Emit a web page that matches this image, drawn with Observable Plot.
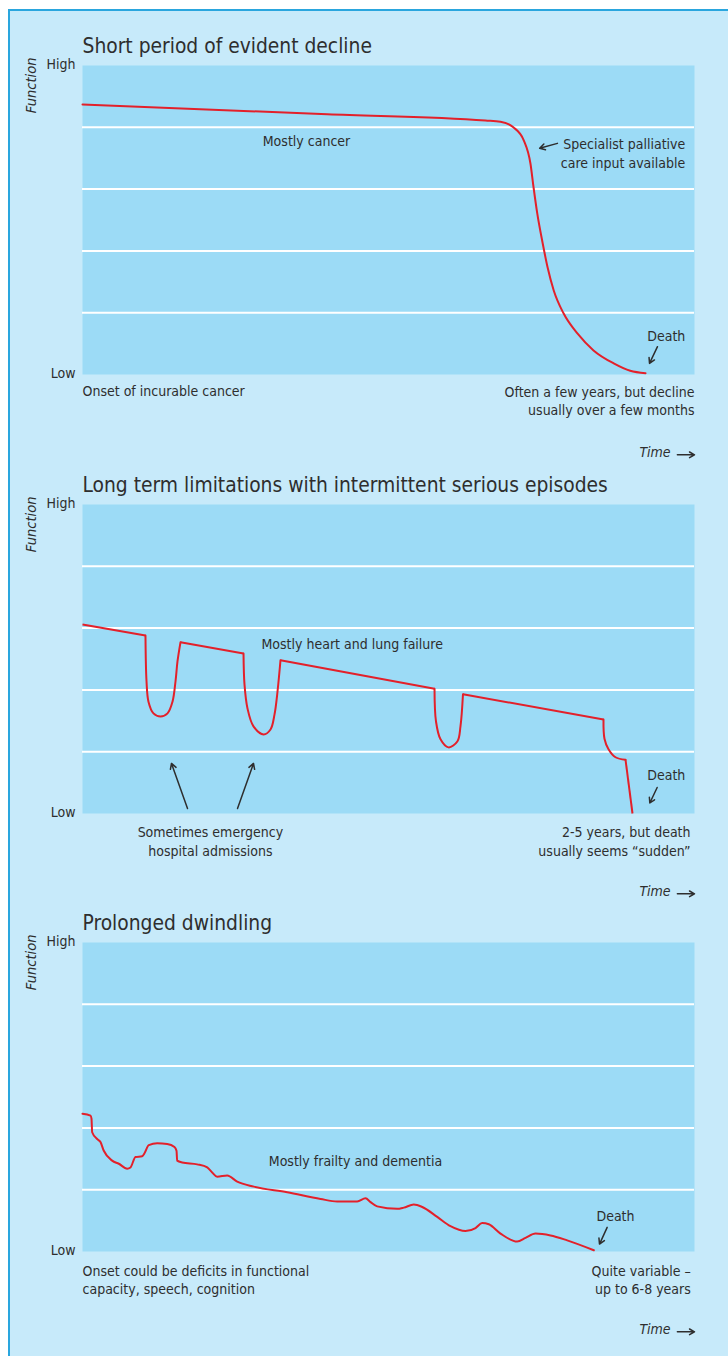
<!DOCTYPE html>
<html><head><meta charset="utf-8">
<script src="https://cdn.jsdelivr.net/npm/d3@7"></script>
<script src="https://cdn.jsdelivr.net/npm/@observablehq/plot@0.6"></script>
<style>
html,body{margin:0;padding:0;background:#fff;}
#page{position:relative;width:728px;height:1356px;overflow:hidden;}
#panel{position:absolute;left:8px;top:9px;right:0;bottom:0;background:#c7eafa;border-left:2px solid #2aa6de;border-top:2px solid #2aa6de;}
#page svg{position:absolute;left:0;}
</style></head><body><div id="page"><div id="panel"></div></div>
<script>
// ---------- shared axis values ----------
const levelTicks = [0, 5];
const levelLabels = ["Low", "High"];
const gridLevels = [1, 2, 3, 4];
const titles = [
  "Short period of evident decline",
  "Long term limitations with intermittent serious episodes",
  "Prolonged dwindling"
];

// ---------- 1. cancer trajectory ----------
const cancerTime = [0, 40, 65.85, 68.3, 70.4, 72.1, 73.2, 73.7, 74.3, 75.2, 76.0, 77.0, 78.6, 80.9, 83.5, 86.8, 89.5, 92.0];
const cancerFunction = [4.37, 4.21, 4.11, 4.09, 4.00, 3.79, 3.41, 3.03, 2.61, 2.12, 1.73, 1.36, 0.99, 0.66, 0.39, 0.18, 0.06, 0.02];
const cancerNotes = ["Mostly cancer", "Specialist palliative\ncare input available", "Death", "Onset of incurable cancer", "Often a few years, but decline\nusually over a few months"];
const cancerNoteTime = [36.6, 98.5, 98.5, 0, 100];
const cancerNoteFunction = [3.79, 3.59, 0.63, -0.26, -0.41];
const cancerNoteAnchor = ["middle", "end", "end", "start", "end"];
const cancerArrowFrom = [[77.6, 3.74], [93.95, 0.45]];
const cancerArrowTo = [[74.7, 3.66], [92.65, 0.18]];

// ---------- 2. heart / lung failure trajectory ----------
const heartSteadyStartTime = [0, 16.01, 32.35, 62.17, 88.73];
const heartSteadyStartFunction = [3.06, 2.77, 2.48, 1.93, 0.87];
const heartSteadyEndTime = [10.29, 26.31, 57.52, 85.13, 89.87];
const heartSteadyEndFunction = [2.88, 2.59, 2.02, 1.52, 0];
const episode1Time = [10.29, 10.46, 10.78, 11.60, 12.75, 13.89, 14.71, 15.20, 15.52, 16.01];
const episode1Function = [2.88, 2.14, 1.81, 1.62, 1.57, 1.62, 1.81, 2.14, 2.46, 2.77];
const episode2Time = [26.31, 26.47, 26.96, 27.94, 29.58, 30.72, 31.37, 31.86, 32.35];
const episode2Function = [2.59, 2.09, 1.70, 1.41, 1.28, 1.36, 1.60, 1.97, 2.48];
const episode3Time = [57.52, 57.76, 58.50, 59.80, 61.27, 61.76, 62.17];
const episode3Function = [2.02, 1.49, 1.20, 1.07, 1.17, 1.41, 1.93];
const terminalTime = [85.13, 85.29, 85.95, 87.09, 88.73];
const terminalFunction = [1.52, 1.21, 1.04, 0.91, 0.87];
const heartNotes = ["Mostly heart and lung failure", "Death", "Sometimes emergency\nhospital admissions", "2-5 years, but death\nusually seems \u201csudden\u201d"];
const heartNoteTime = [44.07, 98.5, 20.9, 99.35];
const heartNoteFunction = [2.75, 0.64, -0.44, -0.44];
const heartNoteAnchor = ["middle", "end", "middle", "end"];
const heartArrowFrom = [[93.9, 0.42], [17.16, 0.08], [25.33, 0.08]];
const heartArrowTo = [[92.7, 0.17], [14.54, 0.81], [27.94, 0.81]];

// ---------- 3. frailty / dementia trajectory ----------
const frailTime = [0, 1.31, 1.47, 1.58, 2.40, 2.94, 3.48, 4.85, 5.93, 7.30, 7.84, 8.66, 9.75, 10.13, 10.83, 12.21, 13.84, 15.03, 15.36, 15.47, 16.29, 18.74, 20.38, 21.19, 22.01, 23.64, 25.28, 27.99, 33.45, 38.89, 41.62, 44.89, 46.24, 47.06, 48.15, 51.42, 52.50, 54.13, 55.51, 57.96, 60.13, 62.58, 64.22, 65.31, 66.39, 68.30, 71.03, 72.39, 74.02, 76.47, 79.20, 83.55];
const frailFunction = [2.23, 2.20, 2.15, 1.93, 1.82, 1.77, 1.63, 1.47, 1.42, 1.34, 1.36, 1.53, 1.54, 1.59, 1.72, 1.75, 1.74, 1.69, 1.63, 1.47, 1.44, 1.41, 1.36, 1.28, 1.21, 1.23, 1.13, 1.05, 0.96, 0.85, 0.81, 0.81, 0.86, 0.80, 0.73, 0.69, 0.71, 0.76, 0.72, 0.56, 0.41, 0.33, 0.38, 0.46, 0.44, 0.29, 0.16, 0.22, 0.29, 0.26, 0.18, 0.02];
const frailNotes = ["Mostly frailty and dementia", "Death", "Onset could be deficits in functional\ncapacity, speech, cognition", "Quite variable \u2013\nup to 6-8 years"];
const frailNoteTime = [44.6, 90.2, 0, 99.4];
const frailNoteFunction = [1.47, 0.59, -0.45, -0.45];
const frailNoteAnchor = ["middle", "end", "start", "end"];
const frailArrowFrom = [[85.73, 0.39]];
const frailArrowTo = [[84.48, 0.12]];

// "Time →" label (same for each panel)
const timeLabel = "Time";
const timeLabelAt = [96.1, -1.27];
const timeArrowFrom = [97.2, -1.30];
const timeArrowTo = [100, -1.30];

// ---------- styling ----------
const FONT = "'Liberation Sans Narrow','Arial Narrow','DejaVu Sans Condensed',sans-serif";
const INK = "#2e2e2e";
const RED = "#e3202a";
const PLOT_BG = "#9cdbf6";
const NOTE_SIZE = 14;

const zip = (xs, ys) => xs.map((x, i) => ({time: x, fn: ys[i]}));

function panel({title, lines, links, notes, arrows, top, height}) {
  const marks = [
    Plot.frame({fill: PLOT_BG, stroke: null}),
    Plot.ruleY(gridLevels, {stroke: "white", strokeWidth: 2}),
    Plot.axisY(levelTicks, {tickFormat: (d) => levelLabels[levelTicks.indexOf(d)], tickSize: 0, tickPadding: 7, fontSize: NOTE_SIZE, label: null, fill: INK, dy: -1}),
    Plot.text([title], {frameAnchor: "top-left", dy: -27, textAnchor: "start", fontSize: 20.8, fill: INK}),
    Plot.text(["Function"], {frameAnchor: "top-left", dx: -57, dy: -8, rotate: -90, textAnchor: "end", fontSize: 14.5, fontStyle: "italic", fill: INK})
  ];
  for (const anchor of ["start", "middle", "end"]) {
    marks.push(Plot.text(notes, {filter: (d) => d.anchor === anchor, x: "time", y: "fn", text: "text", textAnchor: anchor, fontSize: NOTE_SIZE, lineHeight: 1.3, fill: INK}));
  }
  marks.push(
    Plot.arrow(arrows, {x1: "x1", y1: "y1", x2: "x2", y2: "y2", stroke: INK, strokeWidth: 1.5, headLength: 6}),
    Plot.text([{time: timeLabelAt[0], fn: timeLabelAt[1]}], {x: "time", y: "fn", text: () => timeLabel, textAnchor: "end", fontSize: NOTE_SIZE, fontStyle: "italic", fill: INK}),
    Plot.arrow([0], {x1: () => timeArrowFrom[0], y1: () => timeArrowFrom[1], x2: () => timeArrowTo[0], y2: () => timeArrowTo[1], stroke: INK, strokeWidth: 1.5, headLength: 6})
  );
  if (links) marks.push(Plot.link(links, {x1: "x1", y1: "y1", x2: "x2", y2: "y2", stroke: RED, strokeWidth: 2}));
  for (const l of lines) marks.push(Plot.line(l.data, {x: "time", y: "fn", stroke: RED, strokeWidth: 2, curve: l.curve}));
  const svg = Plot.plot({
    width: 728, height,
    marginLeft: 82, marginRight: 34, marginTop: 65, marginBottom: height - 65 - 309,
    x: {domain: [0, 100], axis: null},
    y: {domain: [0, 5]},
    style: {background: "transparent", fontFamily: FONT, color: INK, overflow: "visible"},
    marks
  });
  svg.style.top = top + "px";
  document.getElementById("page").appendChild(svg);
}

const noteRows = (texts, ts, fs, anchors) => texts.map((t, i) => ({text: t, time: ts[i], fn: fs[i], anchor: anchors[i]}));
const arrowRows = (from, to) => from.map((f, i) => ({x1: f[0], y1: f[1], x2: to[i][0], y2: to[i][1]}));

panel({
  title: titles[0], top: 0, height: 439,
  lines: [{data: zip(cancerTime, cancerFunction), curve: "monotone-x"}],
  notes: noteRows(cancerNotes, cancerNoteTime, cancerNoteFunction, cancerNoteAnchor),
  arrows: arrowRows(cancerArrowFrom, cancerArrowTo)
});

panel({
  title: titles[1], top: 439, height: 438,
  links: heartSteadyStartTime.map((t, i) => ({x1: t, y1: heartSteadyStartFunction[i], x2: heartSteadyEndTime[i], y2: heartSteadyEndFunction[i]})),
  lines: [
    {data: zip(episode1Time, episode1Function), curve: "catmull-rom"},
    {data: zip(episode2Time, episode2Function), curve: "catmull-rom"},
    {data: zip(episode3Time, episode3Function), curve: "catmull-rom"},
    {data: zip(terminalTime, terminalFunction), curve: "catmull-rom"}
  ],
  notes: noteRows(heartNotes, heartNoteTime, heartNoteFunction, heartNoteAnchor),
  arrows: arrowRows(heartArrowFrom, heartArrowTo)
});

panel({
  title: titles[2], top: 877, height: 479,
  lines: [{data: zip(frailTime, frailFunction), curve: "monotone-x"}],
  notes: noteRows(frailNotes, frailNoteTime, frailNoteFunction, frailNoteAnchor),
  arrows: arrowRows(frailArrowFrom, frailArrowTo)
});
</script></body></html>
